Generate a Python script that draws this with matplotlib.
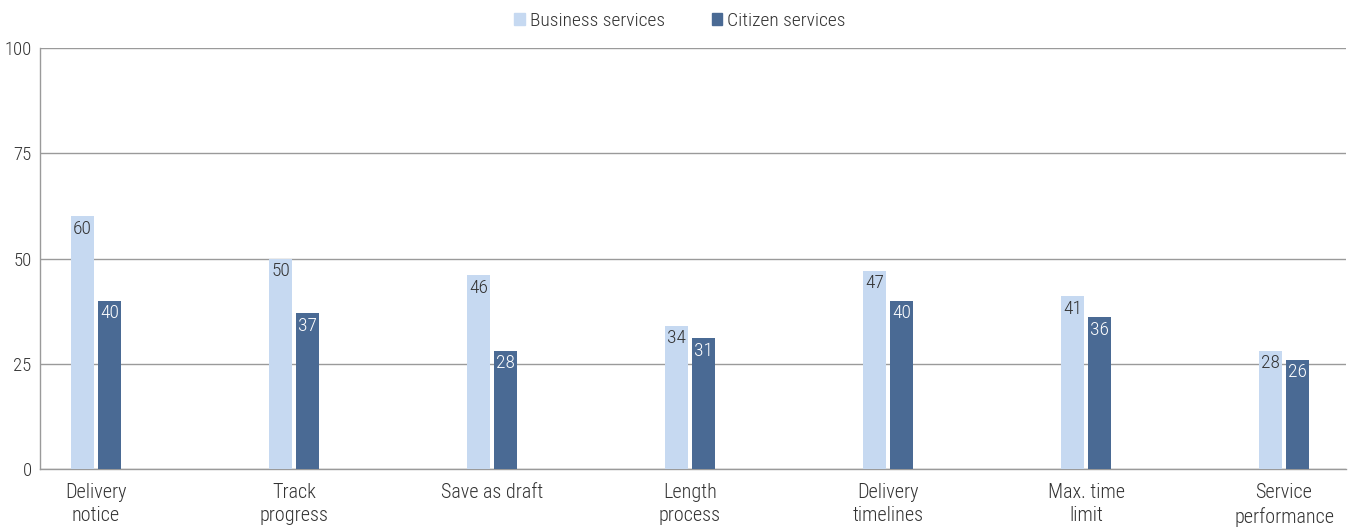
import matplotlib
matplotlib.use("Agg")
import matplotlib.pyplot as plt
import numpy as np
from matplotlib.patches import Patch
from matplotlib import font_manager as fm

categories = ["Delivery\nnotice", "Track\nprogress", "Save as draft", "Length\nprocess",
              "Delivery\ntimelines", "Max. time\nlimit", "Service\nperformance"]
business = [60, 50, 46, 34, 47, 41, 28]
citizen = [40, 37, 28, 31, 40, 36, 26]
yticks = [0, 25, 50, 75, 100]

light = "#c6d9f1"
dark = "#4a6a94"
txt = "#333333"

# pick a condensed font if one is available (prefer a light weight)
ttf = fm.fontManager.ttflist
font_path = None
prefs = ['Liberation Sans Narrow', 'Roboto Condensed', 'Open Sans Condensed', 'Noto Sans Condensed',
         'Arial Narrow', 'DejaVu Sans Condensed']


def wnum(f):
    w = f.weight
    if isinstance(w, str):
        return {'light': 300, 'normal': 400, 'regular': 400, 'book': 400}.get(w.lower(), 500)
    return w


for p in prefs:
    c = [f for f in ttf if f.name == p and f.style == 'normal']
    if c:
        lightc = [f for f in c if wnum(f) == 300]
        regc = [f for f in c if wnum(f) == 400]
        font_path = (lightc or regc or c)[0].fname
        break
if font_path is None:
    for fam in ['Noto Sans', 'Roboto', 'Open Sans', 'DejaVu Sans']:
        c = [f for f in ttf if f.name == fam and f.style == 'normal'
             and str(f.stretch) in ('condensed', 'semi-condensed')]
        if c:
            lightc = [f for f in c if wnum(f) == 300]
            regc = [f for f in c if wnum(f) == 400]
            font_path = (lightc or regc or c)[0].fname
            break

if font_path:
    def FP(size):
        return fm.FontProperties(fname=font_path, size=size)
    scale = 1.0
else:
    def FP(size):
        return fm.FontProperties(family='Liberation Sans', size=size)
    scale = 0.9

fig = plt.figure(figsize=(13.49, 5.27), dpi=100)
ax = fig.add_axes([40/1349, 58/527, 1306/1349, 421/527])

x = np.arange(len(categories))
w = 23/198
off = 13.5/198
b1 = ax.bar(x - off, business, w, color=light, zorder=3, label="Business services")
b2 = ax.bar(x + off, citizen, w, color=dark, zorder=3, label="Citizen services")

for rect, v in zip(b1, business):
    ax.text(rect.get_x() + rect.get_width()/2, v - 0.8, f"{v}", ha="center", va="top",
            fontproperties=FP(14*scale), color=txt, zorder=4)
for rect, v in zip(b2, citizen):
    ax.text(rect.get_x() + rect.get_width()/2, v - 0.8, f"{v}", ha="center", va="top",
            fontproperties=FP(14*scale), color="white", zorder=4)

ax.set_xlim((40-96)/198, (1346-96)/198)
ax.set_ylim(0, 100)
ax.set_yticks(yticks)
ax.set_yticklabels([str(t) for t in yticks], color=txt)
for lab in ax.get_yticklabels():
    lab.set_fontproperties(FP(13.5*scale))
ax.set_xticks(x)
ax.set_xticklabels(categories, color=txt, linespacing=1.3)
for lab in ax.get_xticklabels():
    lab.set_fontproperties(FP(14.5*scale))
ax.tick_params(axis="x", length=0, pad=10)
ax.tick_params(axis="y", length=0, pad=6)
ax.yaxis.grid(True, color="#9a9a9a", linewidth=1, zorder=0)
for s in ["top", "right"]:
    ax.spines[s].set_visible(False)
for s in ["left", "bottom"]:
    ax.spines[s].set_color("#9a9a9a")
    ax.spines[s].set_linewidth(1)

handles = [Patch(color=light, label="Business services"), Patch(color=dark, label="Citizen services")]
fig.legend(handles=handles, loc="center", bbox_to_anchor=(680/1349, 1 - 21/527), ncol=2,
           frameon=False, prop=FP(14*scale), handlelength=0.55, handleheight=0.55, handletextpad=0.25,
           columnspacing=2.4, labelcolor=txt)

fig.savefig("out.png", dpi=100)
